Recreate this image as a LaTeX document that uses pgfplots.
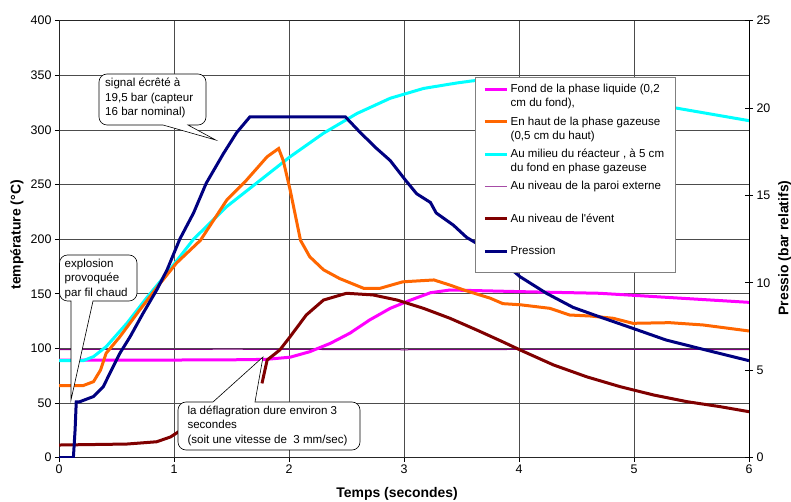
\documentclass[border=0pt]{standalone}
\usepackage{pgfplots}
\pgfplotsset{compat=1.18}
\usepackage{fontspec}
\setmainfont{Liberation Sans}
\definecolor{cMag}{RGB}{255,0,255}
\definecolor{cOra}{RGB}{255,102,0}
\definecolor{cCya}{RGB}{0,255,255}
\definecolor{cPur}{RGB}{128,0,128}
\definecolor{cDred}{RGB}{128,0,0}
\definecolor{cNavy}{RGB}{0,0,128}
\newcommand{\legtxt}[2]{\parbox[t]{154bp}{\strut #1\\\strut #2}}
\begin{document}
\begin{tikzpicture}
\useasboundingbox (-59bp,-44.3bp) rectangle (732bp,457.7bp);
\begin{axis}[
  at={(0bp,0bp)}, anchor=south west, scale only axis, width=690bp, height=437bp,
  xmin=0, xmax=6, ymin=0, ymax=400,
  xtick={0,1,...,6}, ytick={0,50,...,400},
  tick pos=left, tick align=outside, major tick length=4bp,
  grid=major, major grid style={black!70, line width=0.7bp},
  axis line style={black!85, line width=0.8bp},
  tick style={black, line width=0.8bp},
  ticklabel style={font=\fontsize{12.5}{14}\selectfont},
  /pgf/number format/assume math mode=true,
  unbounded coords=jump,
  xlabel={Temps (secondes)},
  xlabel style={font=\fontsize{14}{16}\selectfont\bfseries, at={(axis description cs:0.49,-0.083)}, anchor=center},
  ylabel={température (°C)},
  ylabel style={font=\fontsize{14}{16}\selectfont\bfseries, at={(axis description cs:-0.0608,0.51)}, anchor=center},
]
% Au niveau de la paroi externe
\addplot[cPur, line width=1bp] coordinates {(0,99) (1.5,99.3) (3,98.8) (4.5,99.2) (6,99)};
% Fond de la phase liquide
\addplot[cMag, line width=3bp] coordinates {(0,89.4) (1.0,89.4) (1.5,89.6) (1.8,90) (2.01,92) (2.18,97) (2.36,104.7) (2.53,114) (2.70,126) (2.88,136.7) (3.05,144) (3.23,151) (3.40,153.5) (4.01,152) (4.70,150.5) (5.28,146.8) (6.0,142.2)};
% Au niveau de l'event
\addplot[cDred, line width=3bp] coordinates {(0,11.6) (0.59,12.5) (0.85,14.6) (0.97,19) (1.04,23.8) (1.10,27) (1.4,nan) (1.765,68) (1.81,89.4) (1.92,98.6) (2.01,110.8) (2.15,130.6) (2.30,144.3) (2.50,150.5) (2.73,149) (2.94,144.3) (3.17,136.7) (3.40,127.6) (3.63,117) (3.86,106) (4.01,98.6) (4.30,84.9) (4.59,74) (4.88,65) (5.17,57.4) (5.46,51.3) (5.75,46.7) (6.0,42.1)};
% Au milieu du reacteur
\addplot[cCya, line width=3bp] coordinates {(0,88.8) (0.21,88.8) (0.30,92.5) (0.41,101.6) (0.59,123) (0.76,146) (0.94,169) (1.17,200) (1.46,230) (1.75,254) (2.01,275.5) (2.30,297) (2.59,315) (2.88,329) (3.17,338) (3.46,343) (3.60,345) (3.8,346) (4.0,345) (4.3,341) (4.6,335) (5.0,327) (5.33,320.7) (6.0,308.5)};
% En haut de la phase gazeuse
\addplot[cOra, line width=3bp] coordinates {(0,65.9) (0.21,66) (0.30,69.6) (0.36,80) (0.41,95.6) (0.53,110.8) (0.70,135) (0.88,159.6) (1.02,178) (1.23,199) (1.46,236) (1.63,254) (1.81,275.5) (1.91,283) (1.95,272) (2.01,245) (2.10,199) (2.18,184) (2.30,172) (2.44,164) (2.65,155) (2.79,155) (2.99,161) (3.26,162.7) (3.40,158) (3.52,153.5) (3.75,146) (3.86,141) (4.01,140) (4.27,136.7) (4.44,130.6) (4.62,129.7) (4.82,127.6) (4.99,123) (5.31,123.6) (5.60,121.5) (6.0,116)};
\end{axis}
\begin{axis}[
  at={(0bp,0bp)}, anchor=south west, scale only axis, width=690bp, height=437bp,
  xmin=0, xmax=6, ymin=0, ymax=25,
  axis x line=none, axis y line*=right,
  ytick={0,5,...,25}, tick align=center, major tick length=8bp,
  axis line style={black, line width=0.8bp},
  tick style={black, line width=0.8bp},
  ticklabel style={font=\fontsize{12.5}{14}\selectfont},
  /pgf/number format/assume math mode=true,
  ylabel={Pressio (bar relatifs)},
  ylabel style={font=\fontsize{14}{16}\selectfont\bfseries, at={(axis description cs:1.052,0.48)}, anchor=center},
  legend image code/.code={\draw[#1] (0bp,3.5bp) -- (22bp,3.5bp);},
  legend style={at={(axis description cs:0.6029,0.8712)}, anchor=north west, draw=black!50, line width=0.8bp, fill=white,
    inner xsep=8bp, inner ysep=3.4bp, row sep=0bp, column sep=0bp,
    font=\fontsize{11.6}{14}\selectfont, nodes={inner sep=2.25bp, text depth=}, cells={anchor=base west}},
]
\addlegendimage{cMag, line width=3bp}
\addlegendentry{\legtxt{Fond de la phase liquide (0,2}{cm du fond),}}
\addlegendimage{cOra, line width=3bp}
\addlegendentry{\legtxt{En haut de la phase gazeuse}{(0,5 cm du haut)}}
\addlegendimage{cCya, line width=3bp}
\addlegendentry{\legtxt{Au milieu du réacteur , à 5 cm}{du fond en phase gazeuse}}
\addlegendimage{cPur!70, line width=1.2bp}
\addlegendentry{\legtxt{Au niveau de la paroi externe}{}}
\addlegendimage{cDred, line width=3bp}
\addlegendentry{\legtxt{Au niveau de l\textquotesingle évent}{}}
\addplot[cNavy, line width=3bp] coordinates {(0,0) (0.125,0) (0.14,1.6) (0.15,3.2) (0.18,3.2) (0.30,3.5) (0.385,4.06) (0.44,4.8) (0.53,5.98) (0.62,6.94) (0.73,8.25) (0.85,9.6) (0.94,10.75) (1.05,12.5) (1.17,14.0) (1.28,15.7) (1.43,17.4) (1.545,18.6) (1.66,19.5) (2.0,19.5) (2.49,19.5) (2.62,18.6) (2.76,17.7) (2.88,17.0) (3.01,15.9) (3.11,15.1) (3.23,14.6) (3.28,14.0) (3.43,13.3) (3.545,12.6) (3.75,11.8) (4.01,10.35) (4.24,9.4) (4.47,8.6) (4.70,8.06) (4.99,7.4) (5.28,6.73) (5.57,6.25) (6.0,5.55)};
\addlegendentry{\parbox[t]{154bp}{\strut Pression\\[-6bp]\strut}}
\end{axis}
\begin{scope}[font=\fontsize{11.6}{14.6}\selectfont]
\draw[black, line width=0.6bp, fill=white] (104bp,332.7bp) [rounded corners=8bp] -- (40bp,332.7bp) -- (40bp,383.7bp) -- (147bp,383.7bp) -- (147bp,332.7bp) [sharp corners] -- (129bp,332.7bp) -- (156.7bp,317.7bp) -- cycle;
\node[anchor=base west, inner sep=0] at (46bp,371bp) {\parbox[t]{150bp}{signal écrêté à\\19,5 bar (capteur\\16 bar nominal)}};
\draw[black, line width=0.6bp, fill=white] (34bp,156.7bp) [rounded corners=8bp] -- (78bp,156.7bp) -- (78bp,202.7bp) -- (0.5bp,202.7bp) -- (0.5bp,156.7bp) [sharp corners] -- (12bp,156.7bp) -- (12bp,57.7bp) -- cycle;
\node[anchor=base west, inner sep=0] at (5.5bp,190.4bp) {\parbox[t]{80bp}{explosion\\provoquée\\par fil chaud}};
\draw[black, line width=0.6bp, fill=white] (154bp,55.7bp) [rounded corners=8bp] -- (119bp,55.7bp) -- (119bp,7.7bp) -- (301bp,7.7bp) -- (301bp,55.7bp) [sharp corners] -- (196bp,55.7bp) -- (204bp,100.7bp) -- cycle;
\node[anchor=base west, inner sep=0] at (128.3bp,43.4bp) {\parbox[t]{180bp}{la déflagration dure environ 3\\secondes\\(soit une vitesse de\ \ 3 mm/sec)}};
\end{scope}
\end{tikzpicture}
\end{document}
